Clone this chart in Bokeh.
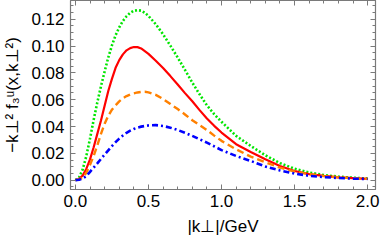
from bokeh.plotting import figure
from bokeh.models import (LinearAxis, SingleIntervalTicker, PrintfTickFormatter,
                          CustomJSTickFormatter, Range1d)
from bokeh.embed import file_html
from bokeh.resources import INLINE

# |k_perp| in GeV
k = [0.0, 0.025, 0.05, 0.075, 0.1, 0.125, 0.15, 0.175, 0.2, 0.225, 0.25, 0.275,
     0.3, 0.325, 0.35, 0.375, 0.4, 0.425, 0.45, 0.475, 0.5, 0.55, 0.6, 0.65,
     0.7, 0.75, 0.8, 0.85, 0.9, 0.95, 1.0, 1.1, 1.2, 1.3, 1.4, 1.5, 1.6, 1.7,
     1.8, 1.9, 2.0]

green = [0.0, 0.002, 0.008, 0.018, 0.031, 0.045, 0.058, 0.070, 0.081, 0.0915,
         0.1005, 0.108, 0.114, 0.1187, 0.1222, 0.1248, 0.1263, 0.1268, 0.1264,
         0.1249, 0.1225, 0.1163, 0.1088, 0.1003, 0.0915, 0.0822, 0.0728, 0.064,
         0.0558, 0.0492, 0.0435, 0.033, 0.0255, 0.0185, 0.0127, 0.0085, 0.0057,
         0.0038, 0.0026, 0.0018, 0.0012]
red = [0.0, 0.0008, 0.0035, 0.0085, 0.0155, 0.0245, 0.0345, 0.0445, 0.0555,
       0.0665, 0.0755, 0.0838, 0.0895, 0.0938, 0.0968, 0.0985, 0.0993, 0.0992,
       0.0982, 0.0962, 0.0942, 0.0891, 0.0836, 0.0776, 0.0713, 0.0649, 0.0588,
       0.0522, 0.046, 0.0405, 0.0355, 0.0268, 0.021, 0.0155, 0.0105, 0.0068,
       0.0045, 0.0031, 0.0021, 0.0015, 0.0010]
orange = [0.0, 0.0004, 0.002, 0.0055, 0.0115, 0.018, 0.026, 0.0345, 0.042, 0.048,
          0.0525, 0.0558, 0.0587, 0.061, 0.0627, 0.0639, 0.0647, 0.0654, 0.0658,
          0.0659, 0.0655, 0.0636, 0.0605, 0.0568, 0.053, 0.049, 0.0447, 0.041,
          0.0374, 0.0332, 0.0293, 0.023, 0.0175, 0.0133, 0.0093, 0.0064, 0.0044,
          0.003, 0.0021, 0.0014, 0.0009]
blue = [0.0, 0.0003, 0.0013, 0.003, 0.0062, 0.0093, 0.0125, 0.0158, 0.019, 0.0222,
        0.0254, 0.0283, 0.031, 0.0333, 0.0353, 0.0369, 0.0382, 0.0392, 0.0399,
        0.0404, 0.0408, 0.041, 0.0404, 0.0391, 0.0374, 0.0353, 0.033, 0.0305,
        0.028, 0.0252, 0.0224, 0.018, 0.0143, 0.0102, 0.0072, 0.0049, 0.0032,
        0.0022, 0.0016, 0.0011, 0.0008]

FONT = "Liberation Sans"
FRAME = "#7a7a7a"

p = figure(width=382, height=244, output_backend="svg", toolbar_location=None,
           x_range=Range1d(-0.0336, 2.054), y_range=Range1d(-0.007, 0.134),
           min_border_left=64, min_border_right=7, min_border_top=0,
           min_border_bottom=55, background_fill_color="white",
           border_fill_color="white")
p.grid.visible = False
p.outline_line_color = FRAME
p.outline_line_width = 1.2

p.line(k, green, line_color="#00e600", line_width=2.6, line_dash="2 2")
p.line(k, red, line_color="#ff0000", line_width=2.2)
p.line(k, orange, line_color="#ff8000", line_width=2.4, line_dash="7 4")
p.line(k, blue, line_color="#0000ff", line_width=2.6, line_dash="6 3 2 3")

def style(ax):
    ax.axis_line_color = FRAME
    ax.major_tick_line_color = FRAME
    ax.minor_tick_line_color = FRAME
    ax.major_tick_in = 5
    ax.major_tick_out = 0
    ax.minor_tick_in = 3
    ax.minor_tick_out = 0
    ax.major_label_text_font = FONT
    ax.major_label_text_font_size = "17px"
    ax.major_label_text_color = "black"
    ax.axis_label_text_font = FONT
    ax.axis_label_text_font_size = "17px"
    ax.axis_label_text_font_style = "normal"
    ax.axis_label_text_color = "black"

xt = SingleIntervalTicker(interval=0.5, num_minor_ticks=5)
yt = SingleIntervalTicker(interval=0.02, num_minor_ticks=4)

xa = p.xaxis[0]
xa.ticker = xt
xa.formatter = PrintfTickFormatter(format="%.1f")
xa.axis_label = "|k\u22a5|/GeV"
xa.major_label_standoff = 5
xa.axis_label_standoff = 7
style(xa)

ya = p.yaxis[0]
ya.ticker = yt
ya.formatter = PrintfTickFormatter(format="%.2f")
ya.axis_label = "\u2212k\u22a5\u00b2 f\u2083\u1d58(x,k\u22a5\u00b2)"
ya.major_label_standoff = 6
ya.axis_label_standoff = 6
style(ya)

blank = CustomJSTickFormatter(code="return ''")
top = LinearAxis(ticker=SingleIntervalTicker(interval=0.5, num_minor_ticks=5),
                 formatter=blank, major_label_standoff=0)
right = LinearAxis(ticker=SingleIntervalTicker(interval=0.02, num_minor_ticks=4),
                   formatter=blank, major_label_standoff=0)
style(top)
style(right)
p.add_layout(top, "above")
p.add_layout(right, "right")

open("out.html", "w").write(file_html(p, INLINE))
